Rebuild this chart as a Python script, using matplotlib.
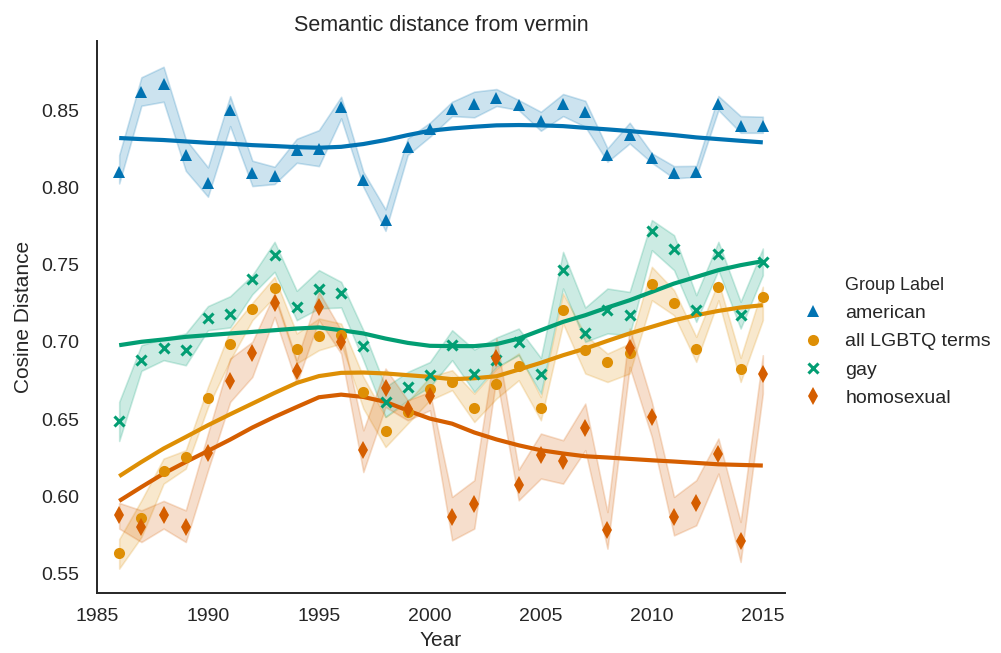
import matplotlib
matplotlib.use("Agg")
import matplotlib.pyplot as plt
from matplotlib.lines import Line2D
import numpy as np

years = list(range(1986, 2016))

groups = ["american", "all LGBTQ terms", "gay", "homosexual"]

american = [0.810, 0.862, 0.867, 0.821, 0.803, 0.850, 0.809, 0.807, 0.824, 0.825,
            0.852, 0.805, 0.779, 0.826, 0.8375, 0.851, 0.854, 0.858, 0.853, 0.843,
            0.854, 0.849, 0.821, 0.834, 0.819, 0.809, 0.810, 0.854, 0.840, 0.840]
american_lo = [0.8025, 0.8528, 0.8554, 0.8107, 0.7939, 0.8396, 0.8008, 0.8021, 0.8159, 0.8137,
               0.8446, 0.8003, 0.7718, 0.8209, 0.8327, 0.8461, 0.8453, 0.8526, 0.8500, 0.8366,
               0.8461, 0.8392, 0.8165, 0.8284, 0.8159, 0.8058, 0.8068, 0.8500, 0.8353, 0.8353]
american_hi = [0.8209, 0.8712, 0.8780, 0.8310, 0.8129, 0.8590, 0.8172, 0.8133, 0.8314, 0.8370,
               0.8586, 0.8100, 0.7857, 0.8317, 0.8418, 0.8554, 0.8619, 0.8636, 0.8565, 0.8489,
               0.8604, 0.8560, 0.8252, 0.8418, 0.8220, 0.8137, 0.8139, 0.8591, 0.8461, 0.8457]
american_smooth = [0.8319, 0.8312, 0.8306, 0.8297, 0.8288, 0.8282, 0.8273, 0.8267, 0.8260, 0.8256,
                   0.8262, 0.8280, 0.8306, 0.8338, 0.8366, 0.8381, 0.8392, 0.8401, 0.8403, 0.8401,
                   0.8396, 0.8385, 0.8375, 0.8364, 0.8351, 0.8338, 0.8323, 0.8312, 0.8301, 0.8291]

lgbtq = [0.5633, 0.5862, 0.6164, 0.6255, 0.6637, 0.6984, 0.7211, 0.7349, 0.6956, 0.7038,
         0.7043, 0.6676, 0.6421, 0.6546, 0.6697, 0.6740, 0.6574, 0.6729, 0.6842, 0.6572,
         0.7209, 0.6950, 0.6870, 0.6928, 0.7373, 0.7252, 0.6956, 0.7356, 0.6827, 0.7291]
lgbtq_lo = [0.5532, 0.5736, 0.6082, 0.6179, 0.6578, 0.6881, 0.7140, 0.7291, 0.6860, 0.6946,
            0.6989, 0.6568, 0.6319, 0.6471, 0.6622, 0.6687, 0.6481, 0.6633, 0.6751, 0.6492,
            0.7118, 0.6795, 0.6740, 0.6795, 0.7269, 0.7172, 0.6870, 0.7269, 0.6740, 0.7140]
lgbtq_hi = [0.5723, 0.5974, 0.6244, 0.6298, 0.6708, 0.7075, 0.7252, 0.7420, 0.7054, 0.7151,
            0.7118, 0.6773, 0.6514, 0.6611, 0.6773, 0.6816, 0.6665, 0.6827, 0.6924, 0.6643,
            0.7313, 0.7043, 0.6924, 0.6989, 0.7485, 0.7334, 0.7032, 0.7390, 0.6896, 0.7356]
lgbtq_smooth = [0.6130, 0.6222, 0.6309, 0.6384, 0.6460, 0.6531, 0.6600, 0.6669, 0.6734, 0.6778,
                0.6799, 0.6801, 0.6795, 0.6784, 0.6773, 0.6758, 0.6764, 0.6777, 0.6820, 0.6864,
                0.6913, 0.6956, 0.7006, 0.7054, 0.7097, 0.7140, 0.7172, 0.7200, 0.7222, 0.7237]

gay = [0.6488, 0.6885, 0.6959, 0.6946, 0.7157, 0.7179, 0.7407, 0.7563, 0.7226, 0.7341,
       0.7313, 0.6971, 0.6611, 0.6708, 0.6787, 0.6978, 0.6790, 0.6885, 0.7000, 0.6790,
       0.7464, 0.7058, 0.7209, 0.7172, 0.7718, 0.7600, 0.7209, 0.7567, 0.7172, 0.7518]
gay_lo = [0.6358, 0.6812, 0.6881, 0.6848, 0.7075, 0.7093, 0.7308, 0.7453, 0.7140, 0.7216,
          0.7222, 0.6881, 0.6514, 0.6622, 0.6708, 0.6881, 0.6676, 0.6838, 0.6913, 0.6665,
          0.7345, 0.7000, 0.7054, 0.7043, 0.7593, 0.7464, 0.7129, 0.7464, 0.7086, 0.7431]
gay_hi = [0.6611, 0.6978, 0.7021, 0.7054, 0.7231, 0.7295, 0.7431, 0.7647, 0.7330, 0.7464,
          0.7388, 0.7075, 0.6708, 0.6805, 0.6869, 0.7075, 0.6950, 0.7028, 0.7086, 0.6896,
          0.7582, 0.7222, 0.7345, 0.7323, 0.7788, 0.7690, 0.7302, 0.7647, 0.7259, 0.7604]
gay_smooth = [0.6978, 0.7000, 0.7015, 0.7032, 0.7043, 0.7054, 0.7064, 0.7075, 0.7086, 0.7093,
              0.7075, 0.7054, 0.7021, 0.6993, 0.6974, 0.6972, 0.6972, 0.6985, 0.7021, 0.7075,
              0.7129, 0.7172, 0.7222, 0.7269, 0.7323, 0.7377, 0.7420, 0.7464, 0.7496, 0.7522]

homo = [0.5877, 0.5801, 0.5881, 0.5801, 0.6277, 0.6745, 0.6928, 0.7252, 0.6812, 0.7226,
        0.7000, 0.6302, 0.6704, 0.6568, 0.6648, 0.5866, 0.5948, 0.6898, 0.6071, 0.6266,
        0.6229, 0.6443, 0.5784, 0.6963, 0.6514, 0.5866, 0.5957, 0.6272, 0.5709, 0.6790]
homo_lo = [0.5791, 0.5704, 0.5791, 0.5704, 0.6168, 0.6611, 0.6773, 0.7161, 0.6730, 0.7140,
           0.6924, 0.6157, 0.6578, 0.6492, 0.6557, 0.5715, 0.5791, 0.6773, 0.5974, 0.6115,
           0.6082, 0.6298, 0.5661, 0.6838, 0.6384, 0.5747, 0.5812, 0.6147, 0.5575, 0.6665]
homo_hi = [0.5957, 0.5909, 0.5970, 0.5909, 0.6406, 0.6892, 0.7000, 0.7313, 0.6881, 0.7323,
           0.7075, 0.6427, 0.6827, 0.6622, 0.6676, 0.5996, 0.6104, 0.7021, 0.6173, 0.6406,
           0.6363, 0.6600, 0.5898, 0.7086, 0.6611, 0.5996, 0.6104, 0.6374, 0.5834, 0.6913]
homo_smooth = [0.5970, 0.6060, 0.6147, 0.6222, 0.6294, 0.6367, 0.6445, 0.6514, 0.6578, 0.6641,
               0.6658, 0.6643, 0.6611, 0.6555, 0.6503, 0.6470, 0.6413, 0.6368, 0.6330, 0.6298,
               0.6277, 0.6259, 0.6251, 0.6242, 0.6233, 0.6225, 0.6216, 0.6207, 0.6203, 0.6199]

xticks = [1985, 1990, 1995, 2000, 2005, 2010, 2015]
yticks = [0.55, 0.60, 0.65, 0.70, 0.75, 0.80, 0.85]

colors = ["#0173b2", "#de8f05", "#029e73", "#d55e00"]
markers = ["^", "o", "x", "d"]
msizes = [8, 8, 7, 9]

series = [
    (american, american_lo, american_hi, american_smooth),
    (lgbtq, lgbtq_lo, lgbtq_hi, lgbtq_smooth),
    (gay, gay_lo, gay_hi, gay_smooth),
    (homo, homo_lo, homo_hi, homo_smooth),
]

plt.rcParams['font.family'] = ['Liberation Sans', 'DejaVu Sans']
text_color = "#262626"

fig = plt.figure(figsize=(10.01, 6.53), dpi=100)
ax = fig.add_axes([97 / 1001, 1 - 593 / 653, (785 - 97) / 1001, (593 - 41) / 653])

for (vals, lo, hi, sm), c, m, ms in zip(series, colors, markers, msizes):
    ax.fill_between(years, lo, hi, color=c, alpha=0.2, linewidth=1.2, zorder=1)
    ax.plot(years, sm, color=c, linewidth=3, zorder=3, solid_capstyle='butt')
    mew = 2.2 if m == "x" else 0
    ax.plot(years, vals, linestyle='none', marker=m, markersize=ms, color=c,
            markeredgewidth=mew, zorder=4)

ax.set_xlim(1985, 2016)
ax.set_ylim(0.5374, 0.8947)
ax.set_xticks(xticks)
ax.set_yticks(yticks)
ax.set_yticklabels([f"{v:.2f}" for v in yticks])
ax.tick_params(axis='y', length=0, labelsize=14, labelcolor=text_color, pad=13)
ax.tick_params(axis='x', length=0, labelsize=14, labelcolor=text_color, pad=11)
for s in ["top", "right"]:
    ax.spines[s].set_visible(False)
for s in ["left", "bottom"]:
    ax.spines[s].set_color(text_color)
    ax.spines[s].set_linewidth(1.4)

ax.set_xlabel("Year", fontsize=15, color=text_color, labelpad=4)
ax.set_ylabel("Cosine Distance", fontsize=15, color=text_color, labelpad=6)
ax.set_title("Semantic distance from vermin", fontsize=15.5, color=text_color, pad=7)

handles = [Line2D([], [], linestyle='none', marker=m, markersize=ms, color=c,
                  markeredgewidth=(2.2 if m == "x" else 0))
           for c, m, ms in zip(colors, markers, msizes)]
leg = fig.legend(handles, groups, title="Group Label", loc="center left",
                 bbox_to_anchor=(781 / 1001, 1 - 342 / 653), frameon=False,
                 fontsize=14, title_fontsize=13, handletextpad=0.9,
                 labelspacing=0.55, handlelength=1.5)
for t in leg.get_texts():
    t.set_color(text_color)
leg.get_title().set_color(text_color)

fig.savefig("out.png", dpi=100)
